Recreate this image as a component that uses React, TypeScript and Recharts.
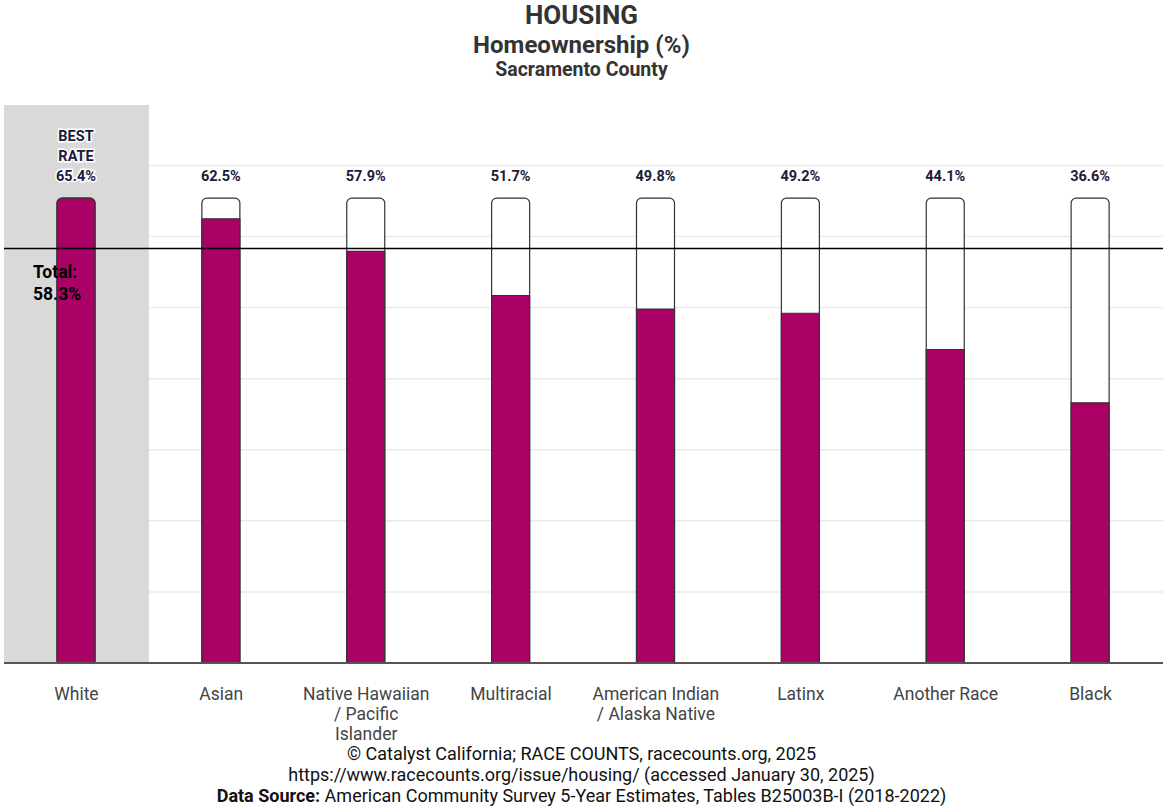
import {
  Bar,
  BarChart,
  CartesianGrid,
  Cell,
  LabelList,
  ReferenceArea,
  ReferenceLine,
  XAxis,
  YAxis,
} from "recharts";

const RACES = [
  "White",
  "Asian",
  "Native Hawaiian / Pacific Islander",
  "Multiracial",
  "American Indian / Alaska Native",
  "Latinx",
  "Another Race",
  "Black",
];

const TICK_LINES = [
  ["White"],
  ["Asian"],
  ["Native Hawaiian", "/ Pacific", "Islander"],
  ["Multiracial"],
  ["American Indian", "/ Alaska Native"],
  ["Latinx"],
  ["Another Race"],
  ["Black"],
];

const RATES = [65.4, 62.5, 57.9, 51.7, 49.8, 49.2, 44.1, 36.6];
const TOTAL_RATE = 58.3;
const GRID_TICKS = [0, 10, 20, 30, 40, 50, 60, 70];

const MAGENTA = "#ab0065";
const LABEL_INK = "#1c1a3c";
const FONT = "Roboto, 'Noto Sans', sans-serif";

const bestRate = Math.max(...RATES);
const data = RACES.map((race, i) => ({
  race,
  rate: RATES[i],
  best: bestRate,
}));

function RaceTick({ x, y, payload }: any) {
  const lines = TICK_LINES[payload.index] ?? [payload.value];
  return (
    <text
      x={x}
      y={y}
      textAnchor="middle"
      fill="#444"
      fontSize={17.5}
      fontFamily={FONT}
    >
      {lines.map((line, i) => (
        <tspan key={line} x={x} dy={i === 0 ? 28.5 : 20}>
          {line}
        </tspan>
      ))}
    </text>
  );
}

function RateLabel({ x, y, width, index }: any) {
  const cx = x + width / 2;
  const lines =
    index === 0
      ? ["BEST", "RATE", `${RATES[index]}%`]
      : [`${RATES[index]}%`];
  const baseY = y - 17 - (lines.length - 1) * 20;
  return (
    <text
      x={cx}
      y={baseY}
      textAnchor="middle"
      fill={LABEL_INK}
      fontSize={14.5}
      fontWeight={700}
      fontFamily={FONT}
      stroke="#fff"
      strokeWidth={3}
      paintOrder="stroke"
    >
      {lines.map((line, i) => (
        <tspan key={line} x={cx} dy={i === 0 ? 0 : 20}>
          {line}
        </tspan>
      ))}
    </text>
  );
}

function TotalLabel({ viewBox }: any) {
  const { y } = viewBox;
  return (
    <text
      x={33}
      y={y + 29}
      fill="#000"
      fontSize={17.5}
      fontWeight={700}
      fontFamily={FONT}
    >
      <tspan x={33}>Total:</tspan>
      <tspan x={33} dy={22}>
        {TOTAL_RATE}%
      </tspan>
    </text>
  );
}

const footerLine = (top: number) =>
  ({
    position: "absolute",
    top,
    width: "100%",
    textAlign: "center",
    color: "#111",
    fontSize: 18,
    lineHeight: 1,
  }) as const;

export default function App() {
  return (
    <div
      style={{
        position: "absolute",
        left: 0,
        top: 0,
        width: 1163,
        height: 806,
        background: "#fff",
        fontFamily: FONT,
      }}
    >
      <div
        style={{
          position: "absolute",
          top: 0,
          width: "100%",
          textAlign: "center",
          color: "#333",
          fontWeight: 700,
          lineHeight: 1,
        }}
      >
        <div style={{ fontSize: 26, marginTop: 2 }}>HOUSING</div>
        <div style={{ fontSize: 24, marginTop: 5 }}>Homeownership (%)</div>
        <div style={{ fontSize: 19.5, marginTop: 3 }}>Sacramento County</div>
      </div>

      <BarChart
        width={1163}
        height={806}
        data={data}
        margin={{ top: 105, right: 0, bottom: 0, left: 4 }}
        barGap={-38}
        barSize={38}
      >
        <ReferenceArea
          x1="White"
          x2="White"
          y1={0}
          y2={78.5}
          fill="#d9d9d9"
          fillOpacity={1}
          stroke="none"
          ifOverflow="extendDomain"
        />
        <CartesianGrid
          vertical={false}
          stroke="#e9e9e9"
          strokeWidth={1.5}
          horizontalValues={GRID_TICKS}
        />
        <XAxis
          dataKey="race"
          tickLine={false}
          axisLine={{ stroke: "#555", strokeWidth: 2 }}
          tick={<RaceTick />}
          interval={0}
          height={143}
        />
        <YAxis hide domain={[0, 78.5]} ticks={GRID_TICKS} width={0} />
        <Bar
          dataKey="best"
          fill="#fff"
          stroke="#333"
          strokeWidth={1.2}
          radius={[5, 5, 0, 0]}
          isAnimationActive={false}
        >
          <LabelList dataKey="best" content={<RateLabel />} />
        </Bar>
        <Bar
          dataKey="rate"
          fill={MAGENTA}
          stroke="#333"
          strokeWidth={1.2}
          isAnimationActive={false}
        >
          {data.map((d) => (
            <Cell
              key={d.race}
              radius={d.rate === bestRate ? [5, 5, 0, 0] : 0}
            />
          ))}
        </Bar>
        <ReferenceLine
          y={TOTAL_RATE}
          stroke="#000"
          strokeWidth={1.5}
          label={<TotalLabel />}
        />
      </BarChart>

      <div style={footerLine(745)}>
        © Catalyst California; RACE COUNTS, racecounts.org, 2025
      </div>
      <div style={footerLine(766)}>
        https://www.racecounts.org/issue/housing/ (accessed January 30, 2025)
      </div>
      <div style={footerLine(787)}>
        <b>Data Source:</b> American Community Survey 5-Year Estimates, Tables
        B25003B-I (2018-2022)
      </div>
    </div>
  );
}
